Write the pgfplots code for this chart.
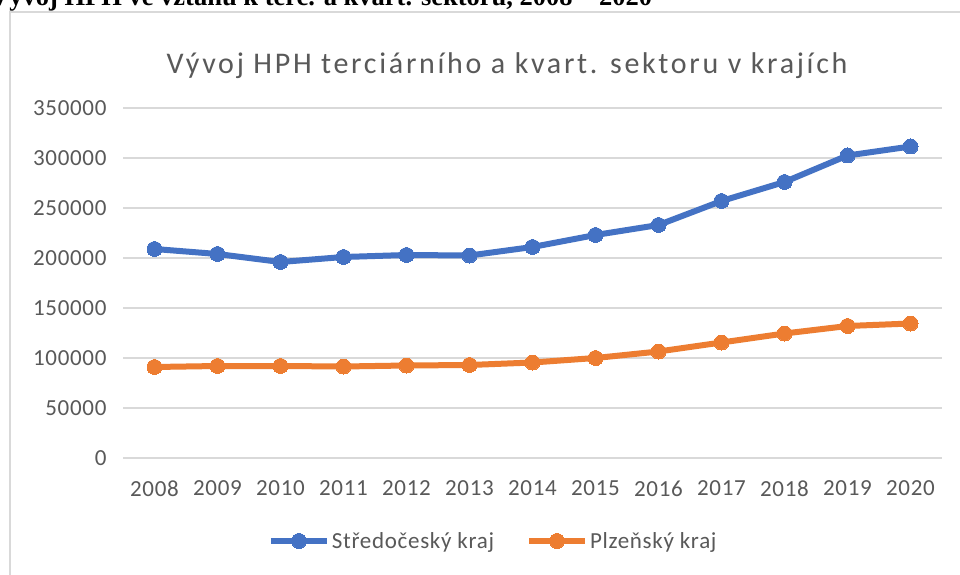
\documentclass[border=0pt]{standalone}
\usepackage{pgfplots}
\pgfplotsset{compat=1.18}
\usepackage{fontspec}
\setmainfont{Carlito}
\newfontfamily\timesb{Liberation Serif}
\newfontfamily\titlefont[LetterSpace=9]{Carlito}
\newfontfamily\tickfont[LetterSpace=3]{Carlito}
\definecolor{xblue}{HTML}{4472C4}
\definecolor{xorange}{HTML}{ED7D31}
\definecolor{xgrid}{HTML}{D9D9D9}
\definecolor{xtext}{HTML}{595959}

\pgfplotstableread{
year  stred  plzen
2008  209000 91000
2009  204000 92000
2010  196000 92000
2011  201000 91500
2012  203000 92500
2013  202500 93000
2014  211000 95500
2015  223000 100000
2016  233000 106500
2017  257000 115500
2018  276000 124500
2019  302500 132000
2020  311500 134500
}\datatable

\begin{document}
\begin{tikzpicture}[x=1pt,y=1pt]
\clip (0,0) rectangle (960,574);
\fill[white] (0,0) rectangle (960,574);
\draw[xgrid, line width=2.5pt] (10,-5) -- (10,562) -- (970,562);
\node[anchor=base west, inner sep=0pt, font=\fontsize{26.5}{26.5}\selectfont\timesb\bfseries] at (-10,568.5) {Vývoj HPH ve vztahu k terc. a kvart. sektoru, 2008 – 2020};
\node[anchor=base, inner sep=0pt, font=\fontsize{30}{30}\titlefont, text=xtext] at (507,500) {Vývoj HPH terciárního a kvart. sektoru v krajích};
\begin{axis}[
  at={(123pt,116pt)}, anchor=south west,
  width=819pt, height=350pt, scale only axis,
  xmin=2007.5, xmax=2020.5, ymin=0, ymax=350000,
  axis line style={draw=none},
  ytick={0,50000,...,350000},
  xtick={2008,...,2020},
  major tick length=0pt,
  ymajorgrids, grid style={xgrid, line width=2pt},
  scaled ticks=false,
  /pgf/number format/.cd, 1000 sep={}, fixed, assume math mode=true,
  /pgfplots/.cd,
  tick label style={text=xtext, font=\fontsize{23}{23}\tickfont},
  yticklabel style={xshift=-13pt},
  xticklabel style={yshift=-19pt},
  legend columns=2,
  legend style={draw=none, fill=none, at={(0.452,-0.237)}, anchor=center,
    font=\fontsize{23}{23}\tickfont, text=xtext,
    /tikz/every even column/.append style={column sep=30pt}},
  legend image code/.code={\draw[#1, mark repeat=2, mark phase=2] plot coordinates {(0pt,0pt) (28pt,0pt) (56pt,0pt)};},
]
\addplot[xblue, line width=6pt, mark=*, mark size=7.5pt, mark options={solid, fill=xblue, draw=xblue, line width=0pt}] table[x=year, y=stred] {\datatable};
\addlegendentry{Středočeský kraj}
\addplot[xorange, line width=6pt, mark=*, mark size=7.5pt, mark options={solid, fill=xorange, draw=xorange, line width=0pt}] table[x=year, y=plzen] {\datatable};
\addlegendentry{Plzeňský kraj}
\end{axis}
\end{tikzpicture}
\end{document}
